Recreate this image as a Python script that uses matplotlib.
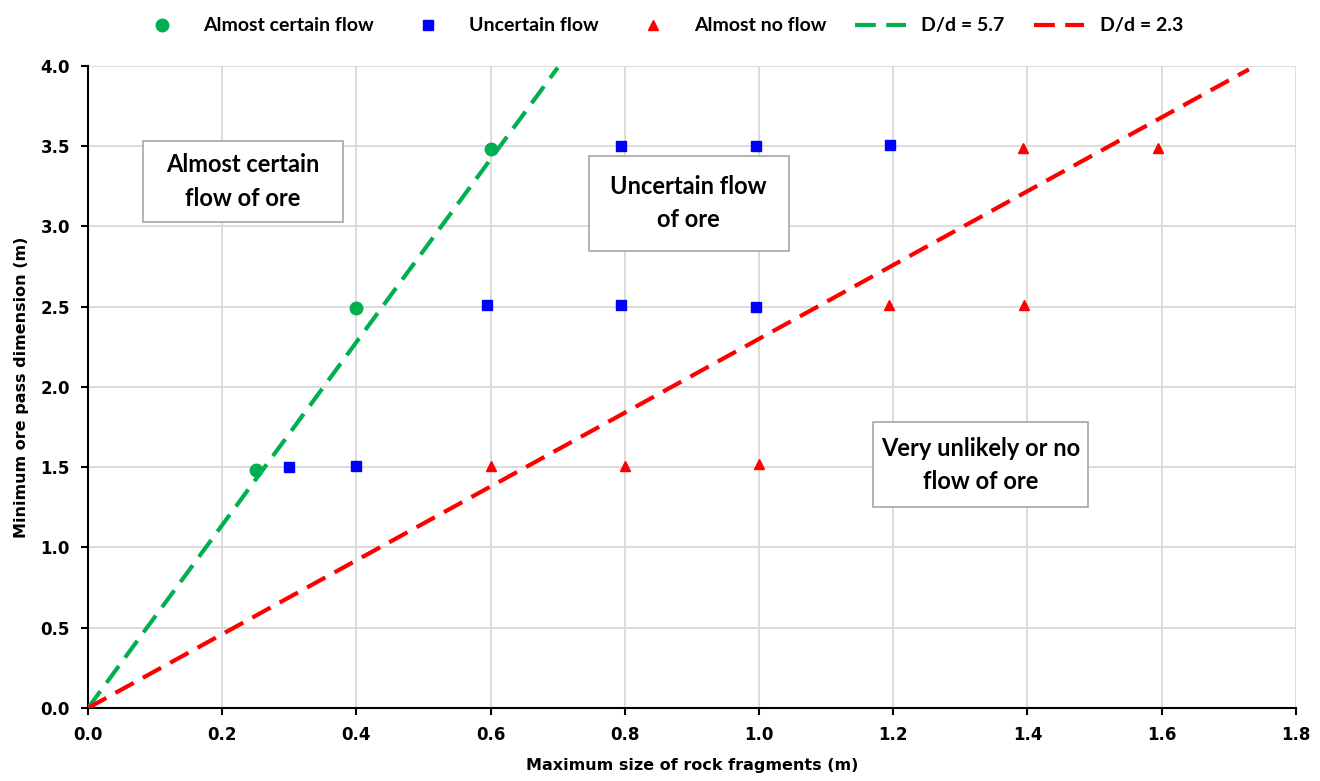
import matplotlib.pyplot as plt
from matplotlib.patches import Rectangle

# Flow observations: maximum fragment size d (m) vs ore pass dimension D (m)
certain_x = [0.25, 0.40, 0.60]
certain_y = [1.48, 2.49, 3.48]

uncertain_x = [0.30, 0.40, 0.595, 0.795, 0.995, 0.795, 0.995, 1.195]
uncertain_y = [1.50, 1.51, 2.51, 2.51, 2.50, 3.50, 3.50, 3.51]

noflow_x = [0.60, 0.80, 1.00, 1.193, 1.395, 1.393, 1.595]
noflow_y = [1.51, 1.51, 1.52, 2.51, 2.51, 3.49, 3.49]

# D/d limit lines
ratio_green = 5.7
ratio_red = 2.3
green_x = [0.0, 0.70]
red_x = [0.0, 1.73]

x_ticks = [0.0, 0.2, 0.4, 0.6, 0.8, 1.0, 1.2, 1.4, 1.6, 1.8]
y_ticks = [0.0, 0.5, 1.0, 1.5, 2.0, 2.5, 3.0, 3.5, 4.0]

GREEN = "#00B050"
BLUE = "#0000FF"
RED = "#FF0000"

fig = plt.figure(figsize=(13.2, 7.81), dpi=100)
ax = fig.add_axes([0.0667, 0.0935, 0.915, 0.822])

ax.plot(certain_x, certain_y, "o", color=GREEN, ms=9, label="Almost certain flow", zorder=4)
ax.plot(uncertain_x, uncertain_y, "s", color=BLUE, ms=7, label="Uncertain flow", zorder=4)
ax.plot(noflow_x, noflow_y, "^", color=RED, ms=7.5, label="Almost no flow", zorder=4)

ax.plot(green_x, [ratio_green * v for v in green_x], color=GREEN, lw=3,
        dashes=(5, 2.5), label="D/d = 5.7", zorder=3)
ax.plot(red_x, [ratio_red * v for v in red_x], color=RED, lw=3,
        dashes=(5, 2.5), label="D/d = 2.3", zorder=3)

ax.set_xlim(0, 1.8)
ax.set_ylim(0, 4.0)
ax.set_xticks(x_ticks)
ax.set_yticks(y_ticks)
ax.set_xticklabels([f"{v:.1f}" for v in x_ticks], fontsize=12, fontweight="bold")
ax.set_yticklabels([f"{v:.1f}" for v in y_ticks], fontsize=12, fontweight="bold")
ax.grid(True, color="#d9d9d9", lw=1.3)
ax.set_axisbelow(True)
for s in ["top", "right"]:
    ax.spines[s].set_visible(False)
for s in ["left", "bottom"]:
    ax.spines[s].set_linewidth(1.5)
ax.tick_params(direction="out", length=5, width=1.5, pad=8)

ax.set_xlabel("Maximum size of rock fragments (m)", fontsize=11.5, fontweight="bold", labelpad=10)
ax.set_ylabel("Minimum ore pass dimension (m)", fontsize=11.5, fontweight="bold", labelpad=8)

# region labels in boxes
boxes = [
    (0.082, 3.03, 0.298, 0.50, "Almost certain\nflow of ore"),
    (0.746, 2.85, 0.298, 0.59, "Uncertain flow\nof ore"),
    (1.17, 1.25, 0.32, 0.53, "Very unlikely or no\nflow of ore"),
]
for bx, by, bw, bh, txt in boxes:
    ax.add_patch(Rectangle((bx, by), bw, bh, facecolor="white", edgecolor="#a6a6a6",
                           lw=1.2, zorder=2))
    ax.text(bx + bw / 2, by + bh / 2, txt, ha="center", va="center", fontsize=17,
            fontweight="bold", family="Lato", linespacing=1.55, zorder=2.5)

fig.legend(loc="upper center", bbox_to_anchor=(0.5, 1.0), ncol=5, frameon=False,
           prop={"family": "Lato", "weight": "bold", "size": 14}, handlelength=2.6,
           columnspacing=1.5, handletextpad=0.8)

fig.savefig("out.png", dpi=100)
